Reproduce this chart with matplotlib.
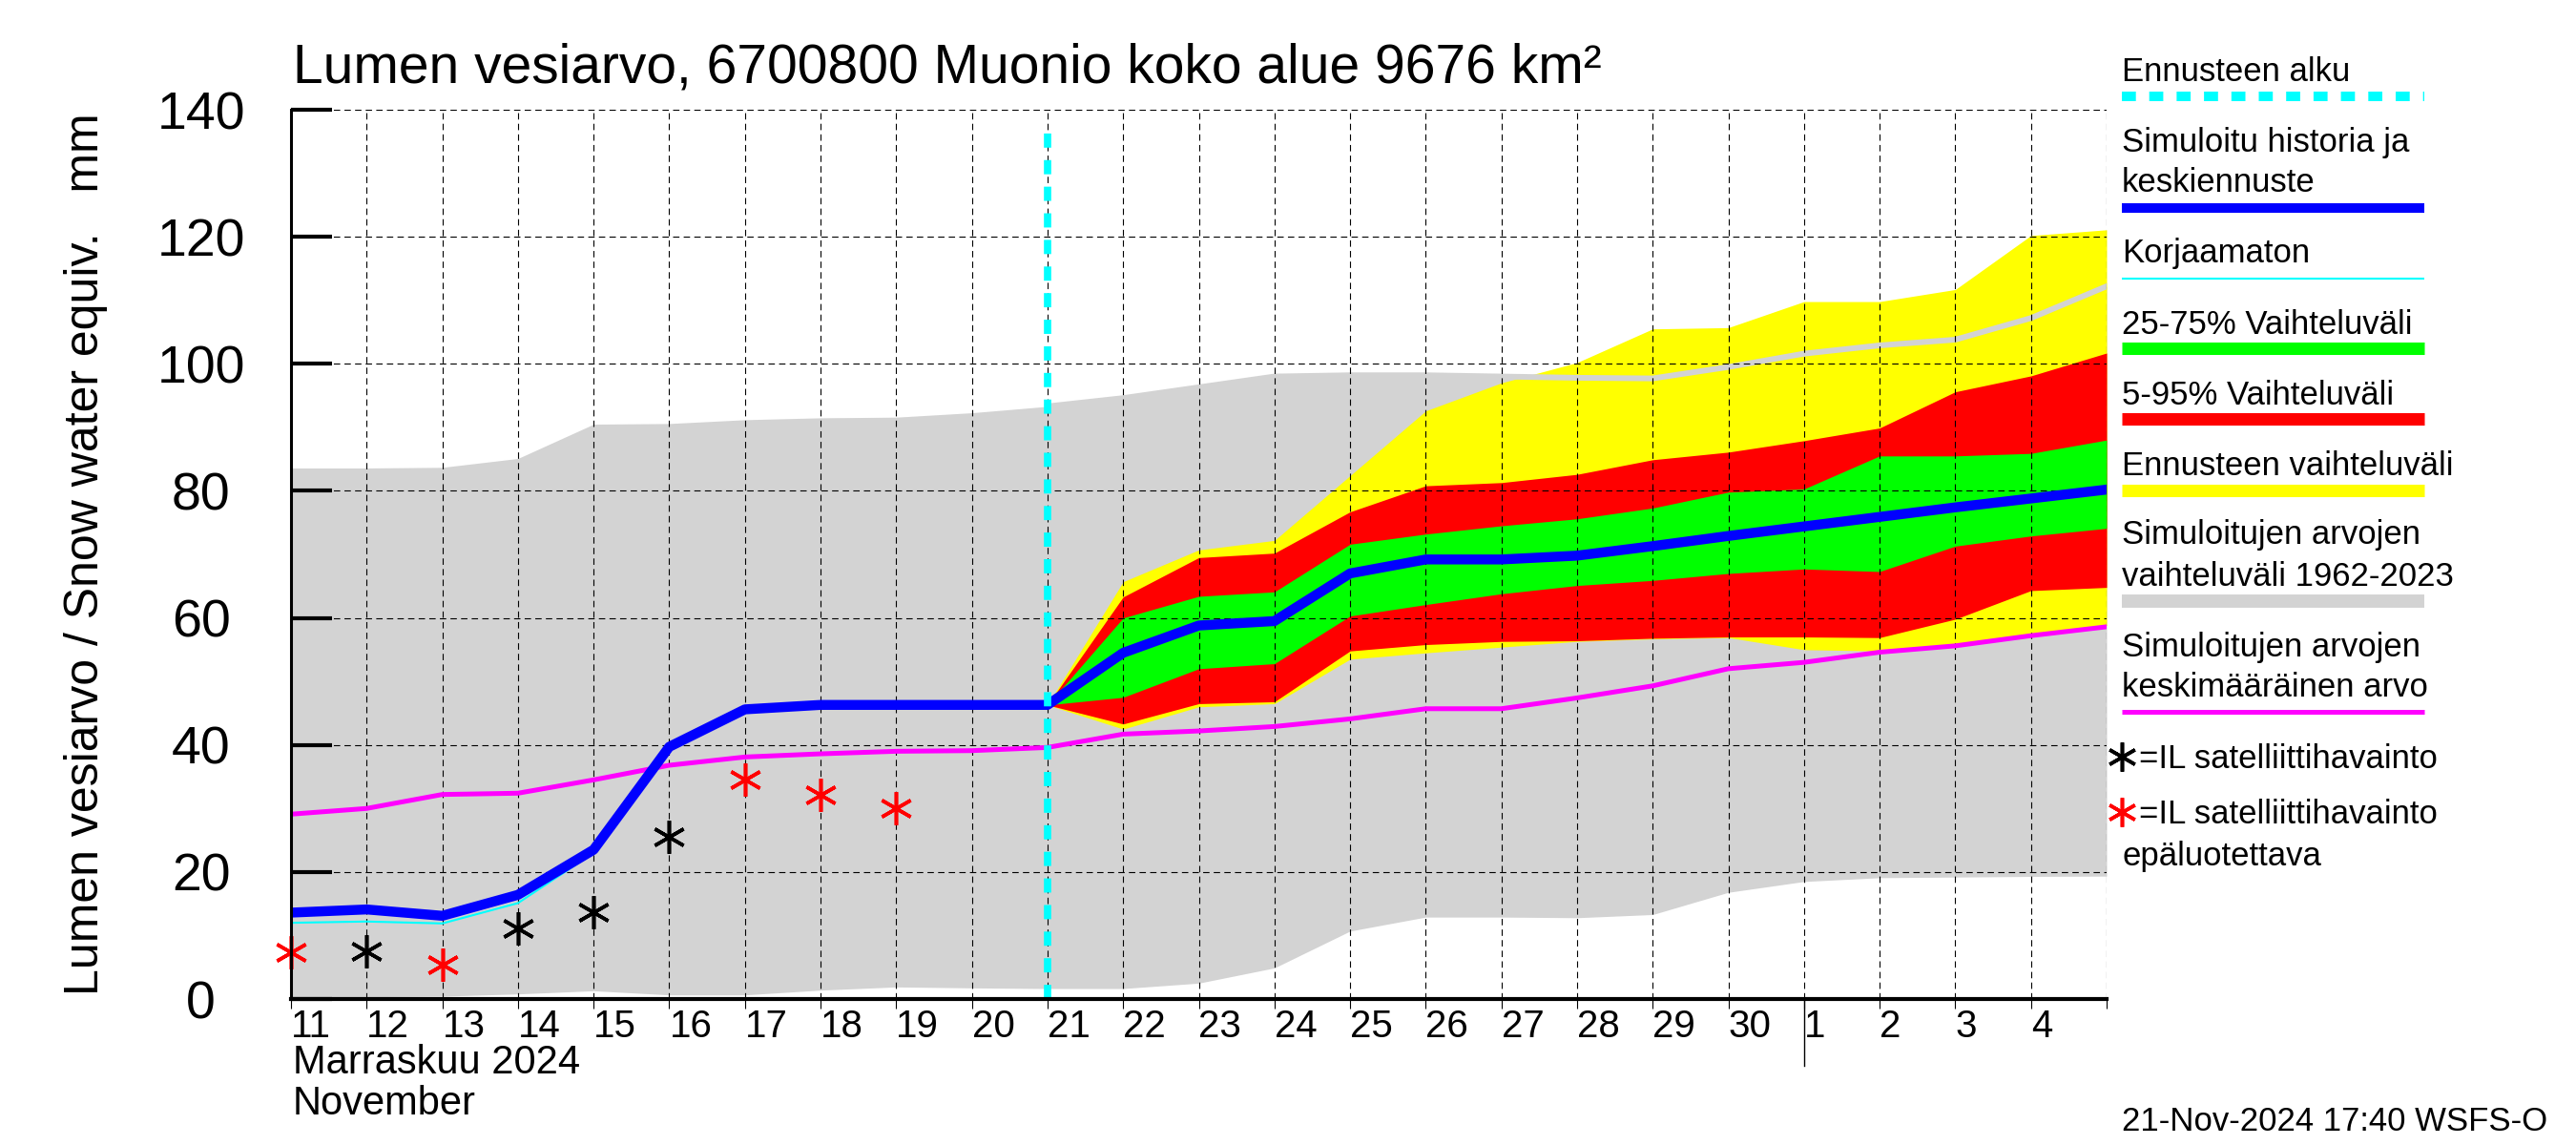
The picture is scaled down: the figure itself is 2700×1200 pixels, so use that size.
import matplotlib
matplotlib.use("Agg")
import matplotlib.pyplot as plt
from matplotlib.lines import Line2D
from matplotlib.transforms import ScaledTranslation

plt.rcParams['font.family'] = ['Liberation Sans', 'DejaVu Sans']

# Päivät: 0 = 11.11.2024 klo 00, 24 = 5.12.2024 klo 00
paivat = list(range(25))
paiva_nimet = [str(d) for d in range(11, 31)] + [str(d) for d in range(1, 5)] + ['']
ennuste_alku = 10   # 21.11.
joulukuu = 20       # 1.12.

# Simuloitu historia ja keskiennuste (mm)
keskiennuste = [13.6, 14.1, 13.1, 16.4, 23.5, 39.7, 45.6, 46.3, 46.3, 46.3, 46.3,
                54.5, 58.8, 59.5, 67.0, 69.2, 69.2, 69.8, 71.3, 72.9, 74.4,
                75.9, 77.4, 78.8, 80.2]
# Korjaamaton (vain historia-osa näkyy)
korjaamaton = [12.0, 12.2, 11.9, 15.1, 23.0, 39.2, 45.1, 46.0, 46.2, 46.2, 46.3]
# Simuloitujen arvojen keskimääräinen arvo
keskiarvo = [29.1, 30.0, 32.2, 32.4, 34.5, 36.8, 38.1, 38.6, 39.0, 39.1, 39.6,
             41.7, 42.2, 42.9, 44.1, 45.7, 45.7, 47.4, 49.3, 52.0, 53.0,
             54.6, 55.6, 57.2, 58.6]
# Simuloitujen arvojen vaihteluväli 1962-2023
hist_max = [83.6, 83.6, 83.7, 85.1, 90.5, 90.6, 91.2, 91.5, 91.6, 92.3, 93.3,
            94.6, 96.3, 98.0, 98.2, 98.2, 98.0, 97.8, 97.7, 99.5, 101.6,
            102.9, 103.8, 107.2, 112.2]
hist_min = [0.3, 0.35, 0.45, 0.8, 1.3, 0.65, 0.65, 1.4, 1.9, 1.75, 1.65,
            1.65, 2.5, 4.9, 10.7, 12.9, 12.9, 12.8, 13.3, 16.8, 18.5,
            19.1, 19.2, 19.3, 19.35]

# Ennusteen vaihteluvälit, päivät 10..24
ennuste_paivat = paivat[ennuste_alku:]
ennuste_max = [46.3, 65.7, 70.7, 72.2, 82.4, 92.6, 97.0, 100.2, 105.5, 105.7, 109.8, 109.8, 111.7, 120.2, 121.1]
p95 = [46.3, 63.3, 69.5, 70.2, 76.7, 80.8, 81.3, 82.6, 84.9, 86.1, 87.9, 89.9, 95.6, 98.1, 101.7]
p75 = [46.3, 60.0, 63.4, 64.1, 71.6, 73.2, 74.5, 75.6, 77.3, 79.8, 80.3, 85.5, 85.5, 85.9, 88.0]
p25 = [46.3, 47.5, 52.0, 52.8, 60.3, 62.1, 63.8, 65.1, 65.9, 67.0, 67.7, 67.3, 71.3, 72.9, 74.1]
p05 = [46.3, 43.3, 46.5, 46.8, 54.8, 55.8, 56.3, 56.4, 56.8, 57.0, 57.0, 56.9, 59.8, 64.3, 64.8]
ennuste_min = [46.3, 42.5, 46.0, 46.5, 53.5, 54.5, 55.4, 56.3, 56.7, 56.9, 55.0, 54.8, 55.8, 57.5, 58.8]

# Satelliittihavainnot
hav_paivat = [1, 3, 4, 5]
hav_arvot = [7.5, 11.1, 13.7, 25.6]
epaluot_paivat = [0, 2, 6, 7, 8]
epaluot_arvot = [7.4, 5.4, 34.6, 32.1, 30.0]

HARMAA = '#d3d3d3'
W, H = 2700, 1200

fig = plt.figure(figsize=(27, 12), dpi=100)
ax = fig.add_axes([305 / W, 1 - 1047 / H, (2208 - 305) / W, (1047 - 115) / H])

ax.fill_between(paivat, hist_min, hist_max, color=HARMAA, lw=0, zorder=1)
ax.fill_between(ennuste_paivat, ennuste_min, ennuste_max, color='#ffff00', lw=0, zorder=1.1)
ax.plot(ennuste_paivat, hist_max[ennuste_alku:], color=HARMAA, lw=4.3, zorder=1.15)
ax.fill_between(ennuste_paivat, p05, p95, color='#ff0000', lw=0, zorder=1.2)
ax.fill_between(ennuste_paivat, p25, p75, color='#00ff00', lw=0, zorder=1.3)

ax.plot(paivat, keskiarvo, color='#ff00ff', lw=3.6, zorder=3)
ax.plot(paivat[:len(korjaamaton)], korjaamaton, color='#00ffff', lw=1.5, zorder=3.1)
ax.plot(paivat, keskiennuste, color='#0000ff', lw=7.5, zorder=3.2, solid_joinstyle='round')

ax.plot(hav_paivat, hav_arvot, ls='none', marker=(6, 2, 0), ms=25, mew=2.6,
        color='black', zorder=4, clip_on=False)
ax.plot(epaluot_paivat, epaluot_arvot, ls='none', marker=(6, 2, 0), ms=25, mew=2.6,
        color='red', zorder=4, clip_on=False)

ax.axvline(ennuste_alku, ymax=0.987, color='#00ffff', lw=5.5,
           linestyle=(0, (1.95, 1.7)), zorder=5)

# Kuukauden vaihde akselin alla
ax.axvline(joulukuu, ymin=-0.075, ymax=0, color='black', lw=1.0, clip_on=False)

ax.set_xlim(0, 24)
ax.set_ylim(0, 140)
ax.set_xticks(paivat)
ax.set_xticklabels(paiva_nimet, fontsize=29, ha='left')
offset = ScaledTranslation(3 / 100, 0, fig.dpi_scale_trans)
for lbl in ax.get_xticklabels():
    lbl.set_transform(lbl.get_transform() + offset)
ax.set_yticks(range(0, 141, 20))
ax.set_yticklabels([str(v) for v in range(0, 141, 20)], fontsize=40, ha='center')
ax.tick_params(axis='y', direction='in', length=31, width=3, pad=68)
ax.tick_params(axis='x', direction='out', length=7, width=0.8, pad=0.5)

ax.grid(True, color='black', linestyle=(0, (6, 4)), linewidth=0.8)
for side in ('top', 'right'):
    ax.spines[side].set_visible(False)
ax.spines['left'].set_linewidth(2.2)
ax.spines['bottom'].set_linewidth(3)
ax.spines['left'].set_zorder(6)
ax.spines['bottom'].set_zorder(6)

ax.set_ylabel('Lumen vesiarvo / Snow water equiv.   mm', fontsize=36, va='center')
ax.yaxis.set_label_coords(-0.113, 0.5)


def fx(px):
    return px / W


def fy(py):
    return 1 - py / H


fig.text(fx(307), fy(86), 'Lumen vesiarvo, 6700800 Muonio koko alue 9676 km²',
         fontsize=41, ha='left', va='baseline')
fig.text(fx(307), fy(1125), 'Marraskuu 2024', fontsize=30, ha='left', va='baseline')
fig.text(fx(307), fy(1168), 'November', fontsize=30, ha='left', va='baseline')

# Selite oikealla
LX, LX2 = 2224, 2541
FS = 25
selite_tekstit = [
    (85, 'Ennusteen alku'),
    (159, 'Simuloitu historia ja'),
    (201, 'keskiennuste'),
    (275, 'Korjaamaton'),
    (350, '25-75% Vaihteluväli'),
    (424, '5-95% Vaihteluväli'),
    (498, 'Ennusteen vaihteluväli'),
    (570, 'Simuloitujen arvojen'),
    (614, 'vaihteluväli 1962-2023'),
    (688, 'Simuloitujen arvojen'),
    (730, 'keskimääräinen arvo'),
    (907, 'epäluotettava'),
]
for py, teksti in selite_tekstit:
    fig.text(fx(LX), fy(py), teksti, fontsize=FS, ha='left', va='baseline')

selite_viivat = [
    (101, '#00ffff', 7.2, (0, (1.47, 1.4))),
    (218, '#0000ff', 7.2, '-'),
    (292, '#00ffff', 1.5, '-'),
    (365, '#00ff00', 9.4, '-'),
    (439, '#ff0000', 9.4, '-'),
    (514, '#ffff00', 9.4, '-'),
    (630, HARMAA, 10, '-'),
    (746, '#ff00ff', 3.6, '-'),
]
for py, vari, lw, ls in selite_viivat:
    fig.add_artist(Line2D([fx(LX), fx(LX2)], [fy(py), fy(py)], color=vari, lw=lw,
                          linestyle=ls, solid_capstyle='butt', dash_capstyle='butt',
                          transform=fig.transFigure))

for py, vari in ((793, 'black'), (851, 'red')):
    fig.add_artist(Line2D([fx(2224)], [fy(py)], ls='none', marker=(6, 2, 0), ms=22,
                          mew=2.6, color=vari, transform=fig.transFigure))
    fig.text(fx(2242), fy(py + 12), '=IL satelliittihavainto', fontsize=FS,
             ha='left', va='baseline')

fig.text(fx(2224), fy(1185), '21-Nov-2024 17:40 WSFS-O', fontsize=FS,
         ha='left', va='baseline')

fig.savefig('out.png', dpi=100)
